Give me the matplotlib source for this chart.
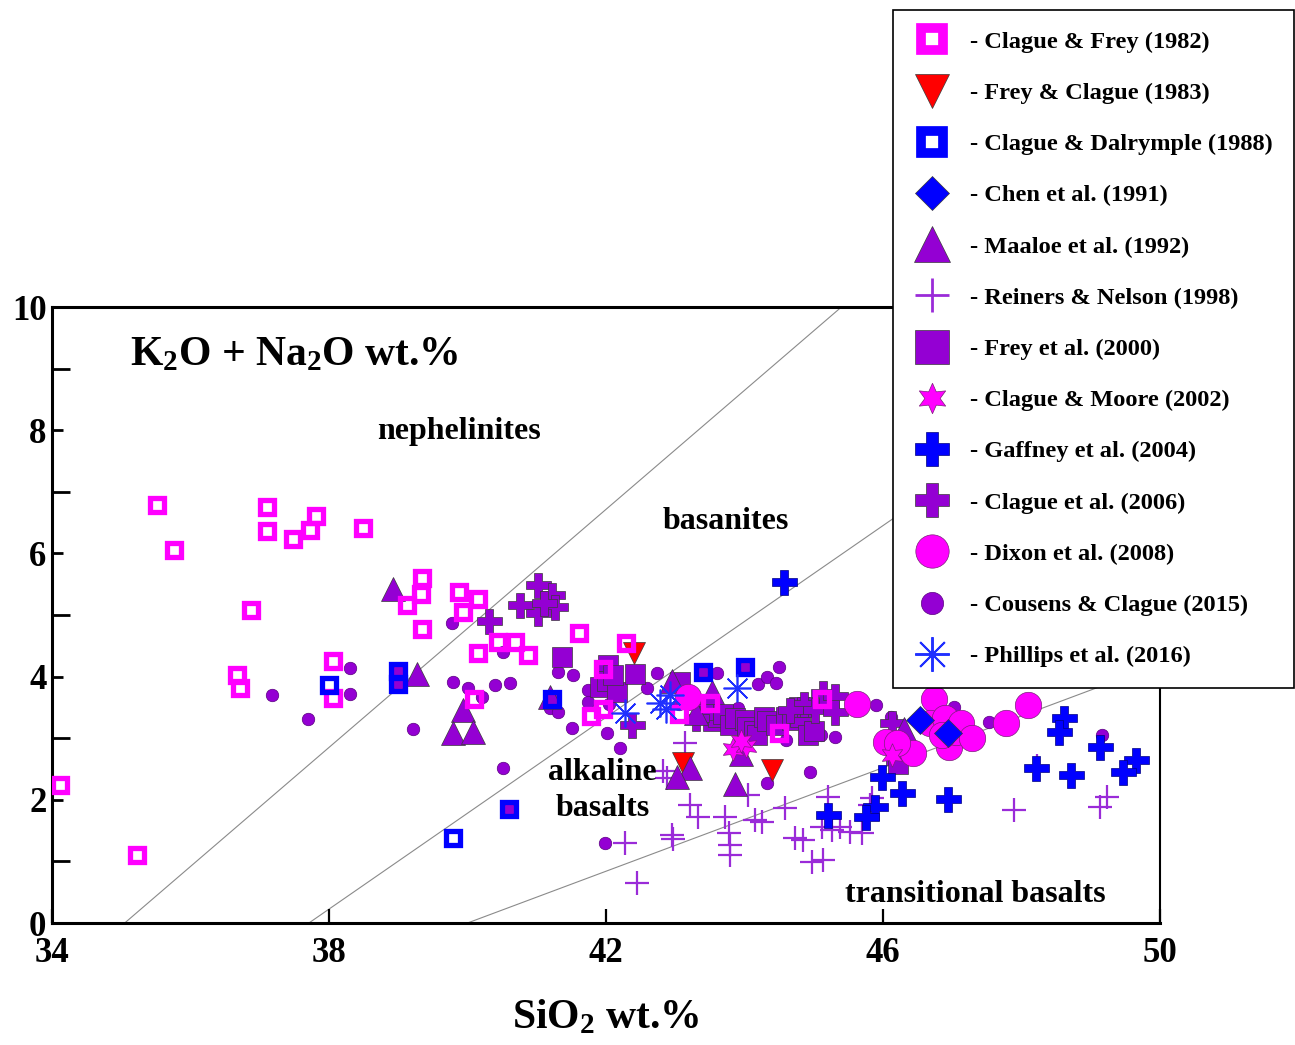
import matplotlib
matplotlib.use('Agg')
import matplotlib.pyplot as plt
from matplotlib.lines import Line2D

plt.rcParams['font.family'] = ['Liberation Serif', 'DejaVu Serif']
plt.rcParams['font.weight'] = 'bold'
plt.rcParams['mathtext.fontset'] = 'custom'
plt.rcParams['mathtext.rm'] = 'Liberation Serif:bold'
plt.rcParams['mathtext.bf'] = 'Liberation Serif:bold'
plt.rcParams['mathtext.it'] = 'Liberation Serif:bold:italic'

# ---------------- data ----------------
clague_frey_1982_x = [35.52, 35.76, 37.10, 37.10, 37.48, 37.81, 37.73, 38.49, 36.87, 39.34, 39.33, 39.13,
                      39.34, 38.06, 36.67, 36.71, 38.06, 34.12, 35.23, 39.88, 40.15, 39.94, 40.15, 40.44,
                      40.69, 40.87, 41.61, 42.29, 40.09, 41.96, 41.78, 41.96, 43.50, 44.50, 45.12, 43.05]
clague_frey_1982_y = [6.79, 6.05, 6.75, 6.36, 6.23, 6.61, 6.38, 6.41, 5.08, 5.60, 5.34, 5.16,
                      4.77, 4.25, 4.03, 3.81, 3.65, 2.24, 1.10, 5.37, 5.26, 5.05, 4.38, 4.56,
                      4.56, 4.35, 4.71, 4.55, 3.64, 4.12, 3.36, 3.47, 3.57, 3.08, 3.63, 3.40]

frey_clague_1983_x = [42.40, 43.11, 44.40]
frey_clague_1983_y = [4.38, 2.60, 2.48]

clague_dalrymple_1988_x = [38.00, 39.00, 39.00, 39.79, 40.60, 41.22, 43.40, 44.01]
clague_dalrymple_1988_y = [3.86, 4.09, 3.88, 1.38, 1.85, 3.64, 4.07, 4.16]

chen_1991_x = [46.53, 46.94]
chen_1991_y = [3.30, 3.08]

maaloe_1992_x = [38.92, 39.27, 39.94, 39.79, 40.08, 41.19, 42.95, 43.21, 43.02, 43.86, 43.53, 43.30, 43.95, 46.30]
maaloe_1992_y = [5.42, 4.04, 3.46, 3.08, 3.10, 3.67, 3.93, 2.52, 2.37, 2.25, 3.75, 3.41, 2.74, 3.15]

reiners_nelson_1998_x = [43.14, 42.82, 42.88, 43.21, 43.33, 42.95, 42.97, 42.27, 42.45, 43.72, 43.77, 43.79,
                         43.79, 44.05, 44.15, 44.25, 44.58, 44.73, 44.85, 44.97, 45.13, 45.20, 45.12, 45.26,
                         45.38, 45.52, 45.69, 45.81, 45.84, 47.89, 48.22, 49.13, 49.24]
reiners_nelson_1998_y = [2.93, 2.46, 2.35, 1.92, 1.72, 1.43, 1.36, 1.30, 0.65, 1.72, 1.46, 1.27,
                         1.10, 2.08, 1.67, 1.64, 1.87, 1.38, 1.35, 0.99, 1.02, 2.05, 1.56, 1.51,
                         1.56, 1.48, 1.46, 1.92, 2.03, 1.83, 2.55, 1.88, 2.05]

frey_2000_x = [41.36, 41.91, 42.03, 42.01, 42.16, 42.10, 42.42, 43.07, 43.55, 43.62, 43.69, 43.79, 43.86,
               44.01, 44.04, 44.13, 44.18, 44.28, 44.32, 44.45, 44.60, 44.68, 44.80, 44.78, 44.90, 44.91,
               45.00, 43.40, 46.19, 46.22]
frey_2000_y = [4.32, 3.83, 4.19, 3.93, 3.75, 4.02, 4.05, 3.92, 3.28, 3.35, 3.40, 3.22, 3.33,
               3.30, 3.18, 3.12, 3.05, 3.35, 3.28, 3.22, 3.35, 3.30, 3.35, 3.50, 3.50, 3.05,
               3.12, 3.45, 2.73, 2.58]

clague_moore_2002_x = [43.84, 44.02, 43.95, 46.13]
clague_moore_2002_y = [2.83, 2.87, 2.95, 2.72]

gaffney_2004_x = [44.57, 48.61, 48.54, 49.13, 49.65, 49.47, 48.21, 48.71, 46.94, 46.27, 45.99, 45.89, 45.76, 45.21]
gaffney_2004_y = [5.54, 3.33, 3.10, 2.86, 2.65, 2.45, 2.52, 2.40, 2.01, 2.11, 2.37, 1.89, 1.72, 1.75]

clague_2006_x = [41.02, 40.76, 41.22, 41.26, 41.02, 41.10, 40.31, 42.37, 43.30, 44.86, 45.02, 45.13, 45.30,
                 45.30, 46.13, 44.65]
clague_2006_y = [5.49, 5.16, 5.32, 5.13, 5.03, 5.20, 4.90, 3.22, 3.32, 3.55, 3.45, 3.73, 3.68,
                 3.42, 3.25, 3.45]

dixon_2008_x = [43.18, 45.63, 46.05, 46.44, 46.73, 46.68, 46.90, 46.95, 47.05, 47.13, 47.28, 47.77, 48.09,
                46.20, 46.85]
dixon_2008_y = [3.67, 3.55, 2.94, 2.76, 3.63, 3.25, 3.33, 2.86, 3.10, 3.25, 3.00, 3.25, 3.54,
                2.92, 3.05]

cousens_clague_2015_x = [37.18, 37.70, 38.30, 38.30, 39.21, 39.00, 39.00, 39.78, 39.79, 40.01, 40.21, 40.40,
                         40.61, 40.51, 40.51, 41.19, 41.31, 41.31, 41.52, 41.51, 41.74, 41.74, 42.01, 42.20,
                         41.99, 42.74, 42.59, 43.60, 44.20, 44.32, 44.45, 44.50, 44.32, 44.95, 43.91, 44.60,
                         45.10, 45.30, 45.90, 46.12, 47.02, 47.53, 49.16, 40.60, 41.25, 42.05, 43.05, 43.40,
                         44.01]
cousens_clague_2015_y = [3.70, 3.31, 4.14, 3.72, 3.15, 4.09, 3.88, 4.87, 3.91, 3.81, 3.67, 3.86,
                         3.89, 4.40, 2.52, 3.49, 3.43, 4.07, 4.03, 3.17, 3.78, 3.59, 3.08, 2.84,
                         1.30, 4.06, 3.81, 4.06, 3.88, 4.00, 3.90, 4.16, 2.27, 2.45, 3.49, 2.97,
                         3.05, 3.02, 3.54, 3.35, 3.51, 3.26, 3.05, 1.85, 3.62, 3.55, 3.55, 4.07,
                         4.16]

phillips_2016_x = [42.27, 42.92, 42.86, 42.78, 43.89]
phillips_2016_y = [3.41, 3.70, 3.48, 3.57, 3.81]

# classification boundaries (x at y=0 and x at y=10)
boundary_x0 = [35.05, 37.71, 40.00]
boundary_x10 = [45.40, 50.56, 63.80]

x_ticks = [34, 38, 42, 46, 50]
y_ticks = [0, 2, 4, 6, 8, 10]

# ---------------- figure ----------------
W, H = 1295, 1045
fig = plt.figure(figsize=(W / 100, H / 100), dpi=100)
ax = fig.add_axes([52 / W, 1 - 923 / H, (1160 - 52) / W, (923 - 307) / H])
ax.set_xlim(34, 50)
ax.set_ylim(0, 10)

for a, b in zip(boundary_x0, boundary_x10):
    ax.plot([a, b], [0, 10], color='#8a8a8a', lw=0.8, zorder=1)

MAG = '#FF00FF'
RED = '#FF0000'
BLUE = '#0000FF'
PUR = '#9400D3'
PUR2 = '#9A2BD8'
EDGE = '#3a3a3a'

styles = {
    'cf':  dict(marker='s', ms=9.6, mfc='none', mec=MAG, mew=3.8),
    'fc':  dict(marker='v', ms=16, mfc=RED, mec=EDGE, mew=0.5),
    'cd':  dict(marker='s', ms=9.6, mfc='none', mec=BLUE, mew=3.8),
    'ch':  dict(marker='D', ms=14, mfc=BLUE, mec=EDGE, mew=0.5),
    'ma':  dict(marker='^', ms=17, mfc=PUR, mec=EDGE, mew=0.5),
    're':  dict(marker='+', ms=17, mfc=PUR2, mec=PUR2, mew=1.6),
    'fr':  dict(marker='s', ms=14.4, mfc=PUR, mec=EDGE, mew=0.5),
    'cm':  dict(marker=(6, 1, 0), ms=17, mfc=MAG, mec='#7a207a', mew=0.5),
    'ga':  dict(marker='P', ms=18, mfc=BLUE, mec='#000080', mew=0.5),
    'c6':  dict(marker='P', ms=18, mfc=PUR, mec=EDGE, mew=0.5),
    'di':  dict(marker='o', ms=19, mfc=MAG, mec='#7a207a', mew=0.5),
    'co':  dict(marker='o', ms=9, mfc=PUR, mec='#5a0080', mew=0.5),
    'ph':  dict(marker=(8, 2, 0), ms=20, mfc=BLUE, mec='#2030FF', mew=1.2),
}

def draw(x, y, key, z):
    ax.plot(x, y, linestyle='none', zorder=z, **styles[key])

draw(cousens_clague_2015_x, cousens_clague_2015_y, 'co', 2)
draw(reiners_nelson_1998_x, reiners_nelson_1998_y, 're', 3)
draw(frey_2000_x, frey_2000_y, 'fr', 4)
draw(clague_2006_x, clague_2006_y, 'c6', 5)
draw(frey_clague_1983_x, frey_clague_1983_y, 'fc', 6)
draw(maaloe_1992_x, maaloe_1992_y, 'ma', 7)
draw(dixon_2008_x, dixon_2008_y, 'di', 8)
draw(clague_moore_2002_x, clague_moore_2002_y, 'cm', 9)
draw(chen_1991_x, chen_1991_y, 'ch', 10)
draw(gaffney_2004_x, gaffney_2004_y, 'ga', 11)
draw(clague_frey_1982_x, clague_frey_1982_y, 'cf', 12)
draw(clague_dalrymple_1988_x, clague_dalrymple_1988_y, 'cd', 13)
draw(phillips_2016_x, phillips_2016_y, 'ph', 14)

# text annotations
ax.text(35.13, 9.22, r'K$_\mathbf{2}$O + Na$_\mathbf{2}$O wt.%', fontsize=30, fontweight='bold',
        ha='left', va='center')
ax.text(39.88, 7.98, 'nephelinites', fontsize=23, fontweight='bold', ha='center', va='center')
ax.text(43.73, 6.52, 'basanites', fontsize=23, fontweight='bold', ha='center', va='center')
ax.text(41.94, 2.45, 'alkaline', fontsize=23, fontweight='bold', ha='center', va='center')
ax.text(41.95, 1.86, 'basalts', fontsize=23, fontweight='bold', ha='center', va='center')
ax.text(47.34, 0.46, 'transitional basalts', fontsize=23, fontweight='bold', ha='center', va='center')

# axes styling
ax.set_xticks(x_ticks)
ax.set_xticklabels([str(v) for v in x_ticks])
ax.set_yticks(y_ticks)
ax.set_yticklabels([str(v) for v in y_ticks])
ax.set_yticks([1, 3, 5, 7, 9], minor=True)
ax.tick_params(axis='x', direction='in', length=10, width=1.6, labelsize=25, pad=10)
ax.tick_params(axis='y', which='major', direction='in', length=8, width=2, labelsize=25, pad=4)
ax.tick_params(axis='y', which='minor', direction='in', length=13, width=2)
for lab in ax.get_xticklabels() + ax.get_yticklabels():
    lab.set_fontweight('bold')
for s in ax.spines.values():
    s.set_linewidth(2.2)
ax.spines['right'].set_linewidth(1.5)
ax.set_xlabel(r'SiO$_\mathbf{2}$ wt.%', fontsize=30, fontweight='bold', labelpad=21)

# legend
labels = ['- Clague & Frey (1982)', '- Frey & Clague (1983)', '- Clague & Dalrymple (1988)',
          '- Chen et al. (1991)', '- Maaloe et al. (1992)', '- Reiners & Nelson (1998)',
          '- Frey et al. (2000)', '- Clague & Moore (2002)', '- Gaffney et al. (2004)',
          '- Clague et al. (2006)', '- Dixon et al. (2008)', '- Cousens & Clague (2015)',
          '- Phillips et al. (2016)']
leg_styles = [
    dict(marker='s', ms=16.5, mfc='none', mec=MAG, mew=7),
    dict(marker='v', ms=24, mfc=RED, mec=EDGE, mew=0.5),
    dict(marker='s', ms=16.5, mfc='none', mec=BLUE, mew=7),
    dict(marker='D', ms=17, mfc=BLUE, mec=EDGE, mew=0.5),
    dict(marker='^', ms=26, mfc=PUR, mec=EDGE, mew=0.5),
    dict(marker='+', ms=24, mfc=PUR2, mec=PUR2, mew=2),
    dict(marker='s', ms=24, mfc=PUR, mec=EDGE, mew=0.5),
    dict(marker=(6, 1, 0), ms=22, mfc=MAG, mec='#7a207a', mew=0.5),
    dict(marker='P', ms=24, mfc=BLUE, mec='#000080', mew=0.5),
    dict(marker='P', ms=24, mfc=PUR, mec=EDGE, mew=0.5),
    dict(marker='o', ms=24, mfc=MAG, mec='#7a207a', mew=0.5),
    dict(marker='o', ms=16, mfc=PUR, mec='#5a0080', mew=0.5),
    dict(marker=(8, 2, 0), ms=25, mfc=BLUE, mec='#2030FF', mew=1.4),
]
handles = [Line2D([], [], linestyle='none', **st) for st in leg_styles]
leg = fig.legend(handles, labels, loc='upper left', bbox_to_anchor=(893 / W, 1 - 10 / H),
                 bbox_transform=fig.transFigure, borderaxespad=0, frameon=True, fancybox=False,
                 edgecolor='black', framealpha=1, borderpad=0.85, handlelength=1.5,
                 handletextpad=0.81, labelspacing=1.19, prop={'weight': 'bold', 'size': 17.6})
leg.get_frame().set_linewidth(1.2)
leg.set_zorder(20)

fig.savefig('out.png', dpi=100, facecolor='white')
